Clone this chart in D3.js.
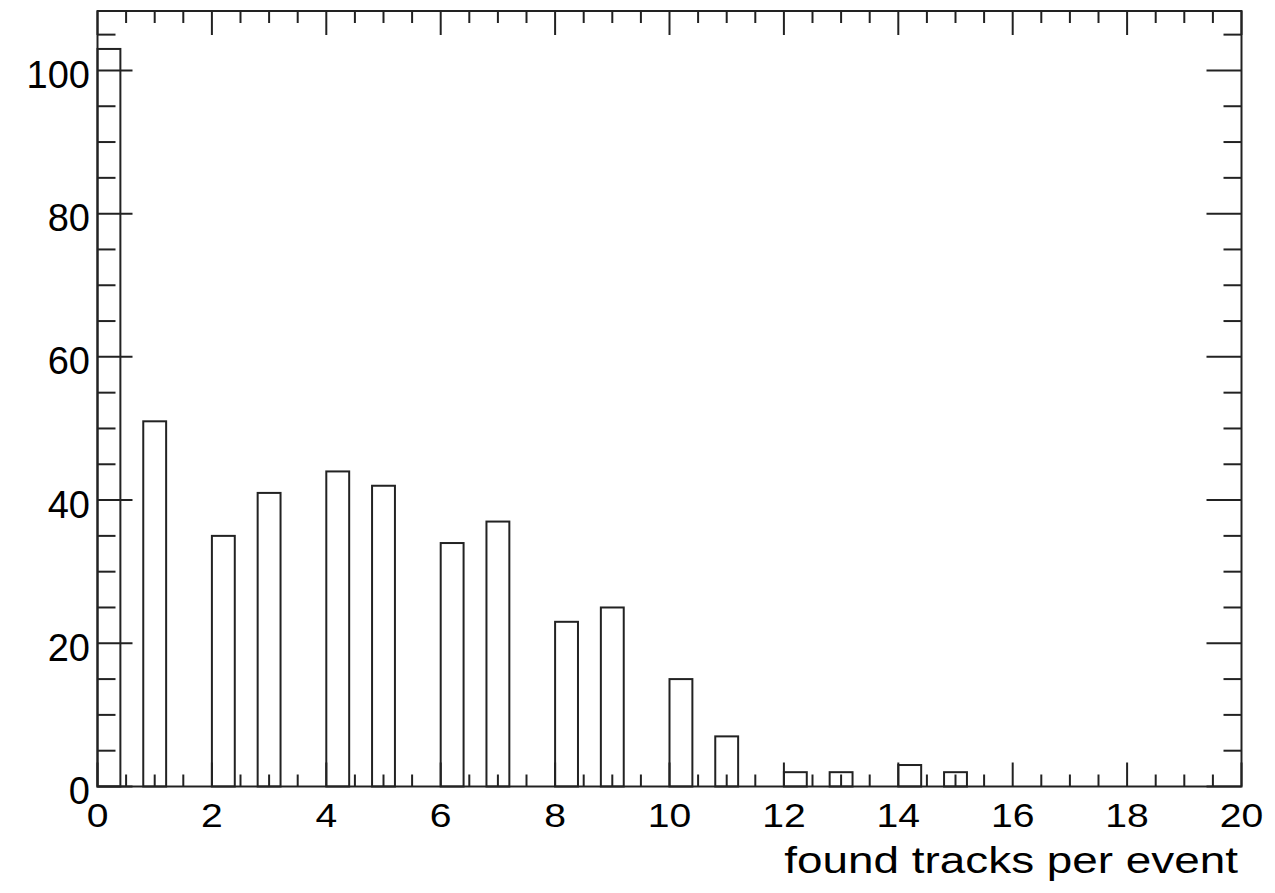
<!DOCTYPE html>
<html>
<head>
<meta charset="utf-8">
<script src="https://cdn.jsdelivr.net/npm/d3@7"></script>
<style>
    body { margin: 0; background: #fff; }
    text { font-family: "Liberation Sans", Arial, Helvetica, sans-serif; fill: #000; }
</style>
</head>
<body>
<div id="vis"></div>
<script>
// Histogram data: 50 bins of width 0.4 on [0, 20], only non-empty bins listed
var binWidth = 0.4;
var binStarts = [0, 0.8, 2.0, 2.8, 4.0, 4.8, 6.0, 6.8, 8.0, 8.8, 10.0, 10.8, 12.0, 12.8, 14.0, 14.8];
var counts = [103, 51, 35, 41, 44, 42, 34, 37, 23, 25, 15, 7, 2, 2, 3, 2];
var xTickLabels = [0, 2, 4, 6, 8, 10, 12, 14, 16, 18, 20];
var yTickLabels = [0, 20, 40, 60, 80, 100];
var xTitle = "found tracks per event";

var data = binStarts.map(function(d, i) {
    return {x0: d, x1: d + binWidth, count: counts[i]};
});

// Setting defaults
var width = 1275,
    height = 893,
    frame = {left: 97.5, right: 1241.5, top: 11, bottom: 786.5},
    stroke = "#222";

var svg = d3.select("#vis").append("svg")
    .attr("width", width)
    .attr("height", height);

var x = d3.scaleLinear()
    .domain([0, 20])
    .range([frame.left, frame.right]);

var y = d3.scaleLinear()
    .domain([0, 108.3])
    .range([frame.bottom, frame.top]);

// tick marks on all four sides (ROOT style)
var xMinor = d3.range(0, 20.01, 0.5),
    yMinor = d3.range(0, 108, 5);

var ticks = svg.append("g")
    .attr("stroke", stroke)
    .attr("stroke-width", 2);

xMinor.forEach(function(v) {
    var len = (v % 2 === 0) ? 24 : 12;
    ticks.append("line")
        .attr("x1", x(v)).attr("x2", x(v))
        .attr("y1", frame.bottom).attr("y2", frame.bottom - len);
    ticks.append("line")
        .attr("x1", x(v)).attr("x2", x(v))
        .attr("y1", frame.top).attr("y2", frame.top + len);
});

yMinor.forEach(function(v) {
    var len = (v % 20 === 0) ? 35 : 18;
    ticks.append("line")
        .attr("x1", frame.left).attr("x2", frame.left + len)
        .attr("y1", y(v)).attr("y2", y(v));
    ticks.append("line")
        .attr("x1", frame.right).attr("x2", frame.right - len)
        .attr("y1", y(v)).attr("y2", y(v));
});

// bars, outline only
svg.selectAll(".bar")
    .data(data)
    .enter()
    .append("rect")
    .attr("class", "bar")
    .attr("x", function(d) { return x(d.x0); })
    .attr("width", function(d) { return x(d.x1) - x(d.x0); })
    .attr("y", function(d) { return y(d.count); })
    .attr("height", function(d) { return y(0) - y(d.count); })
    .attr("fill", "none")
    .attr("stroke", stroke)
    .attr("stroke-width", 2);

// frame
svg.append("rect")
    .attr("x", frame.left)
    .attr("y", frame.top)
    .attr("width", frame.right - frame.left)
    .attr("height", frame.bottom - frame.top)
    .attr("fill", "none")
    .attr("stroke", stroke)
    .attr("stroke-width", 2);

// axis labels
svg.selectAll(".xlabel")
    .data(xTickLabels)
    .enter()
    .append("text")
    .attr("class", "xlabel")
    .attr("text-anchor", "middle")
    .attr("font-size", 34)
    .attr("transform", function(d) {
        return "translate(" + x(d) + "," + (frame.bottom + 40) + ") scale(1.15,1)";
    })
    .text(function(d) { return d; });

svg.selectAll(".ylabel")
    .data(yTickLabels)
    .enter()
    .append("text")
    .attr("class", "ylabel")
    .attr("text-anchor", "end")
    .attr("font-size", 38)
    .attr("x", 90)
    .attr("y", function(d) { return y(d) + 17.5; })
    .text(function(d) { return d; });

svg.append("text")
    .attr("text-anchor", "end")
    .attr("font-size", 37)
    .attr("transform", "translate(1238,873) scale(1.24,1)")
    .text(xTitle);
</script>
</body>
</html>
